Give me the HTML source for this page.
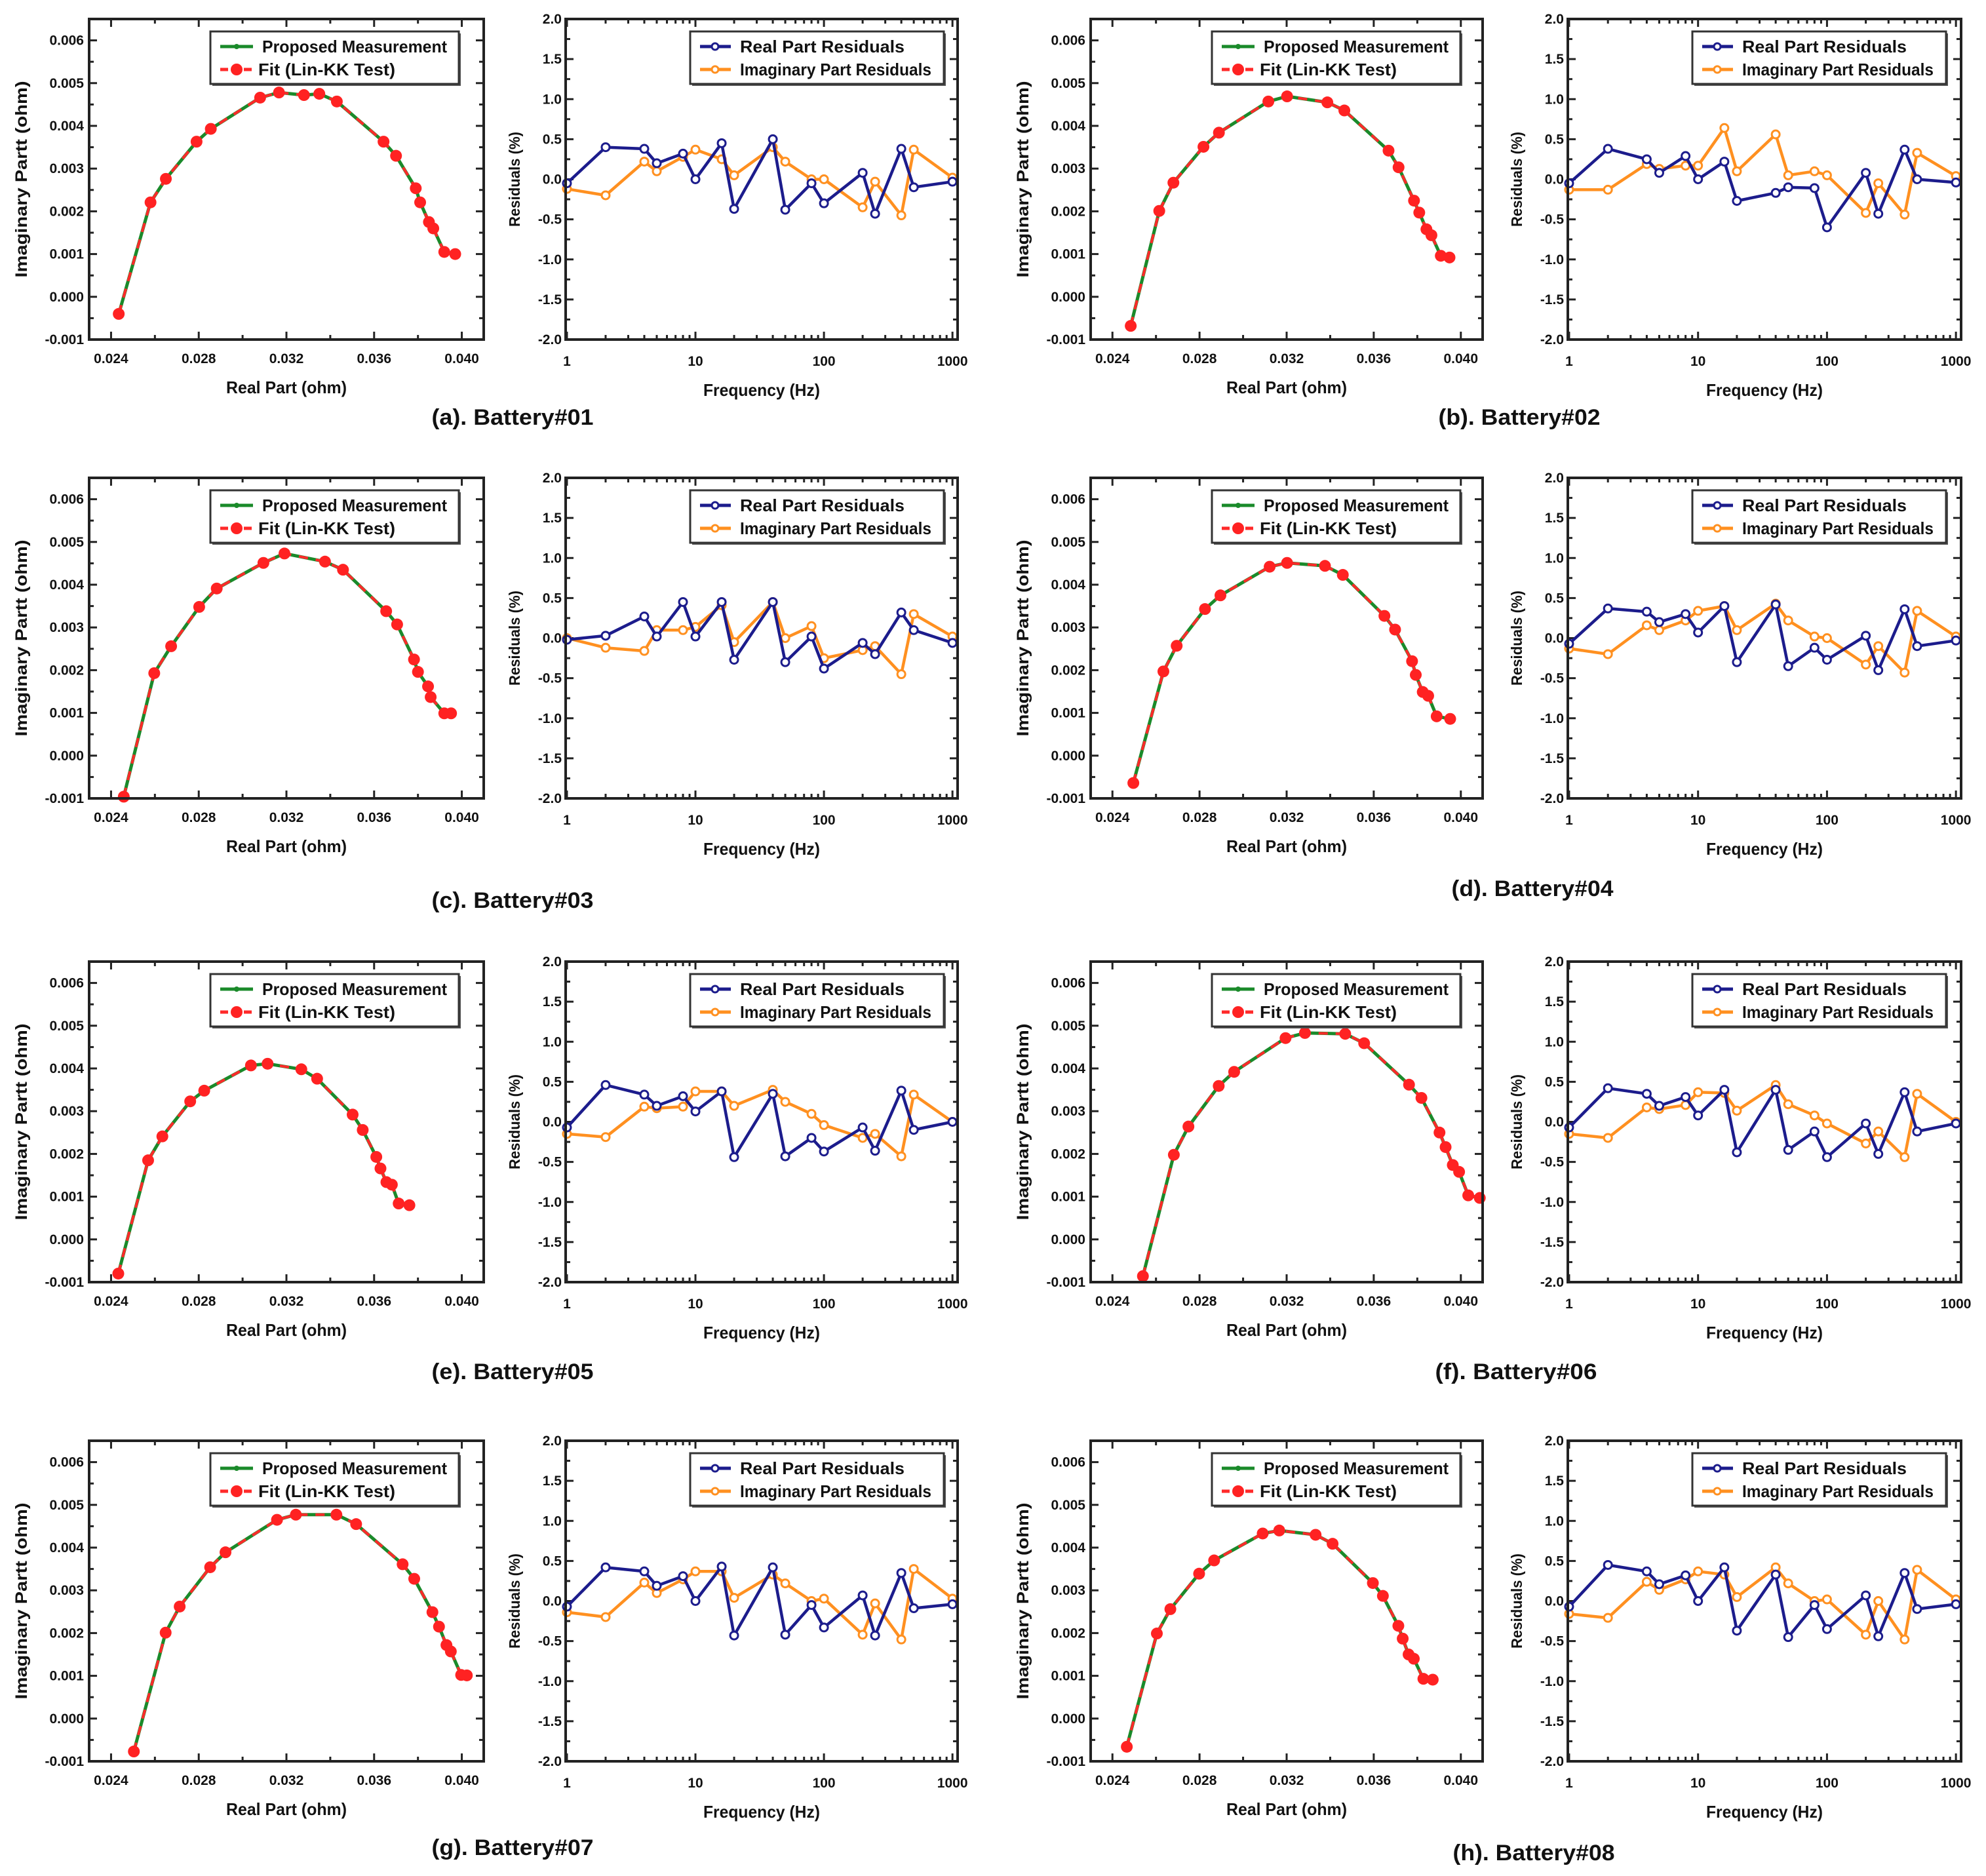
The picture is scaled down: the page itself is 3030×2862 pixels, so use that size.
<!DOCTYPE html>
<html><head><meta charset="utf-8">
<style>
html,body{margin:0;padding:0;background:#fff;}
svg{display:block;}
text{font-family:"Liberation Sans Narrow","Liberation Sans",sans-serif;font-weight:bold;fill:#111;}
.cap{font-family:"Liberation Sans",sans-serif;}
</style></head>
<body>
<svg id="fig" width="3030" height="2862" viewBox="0 0 3030 2862" xmlns="http://www.w3.org/2000/svg"></svg>
<script>
// ---- shared data ----
const FREQ = [1,2,4,5,8,10,16,20,40,50,80,100,200,250,400,500,1000];
const FREQ_TICKS = [1,10,100,1000];
const RES_TICKS = [-2.0,-1.5,-1.0,-0.5,0.0,0.5,1.0,1.5,2.0];
const NYQ_X_TICKS = [0.024,0.028,0.032,0.036,0.040];
const NYQ_Y_TICKS = [-0.001,0.000,0.001,0.002,0.003,0.004,0.005,0.006];

// ---- residuals (%) ----
const resRealA = [-0.05,0.40,0.38,0.20,0.32,0.00,0.45,-0.37,0.50,-0.38,-0.05,-0.30,0.08,-0.43,0.38,-0.10,-0.03];
const resImagA = [-0.12,-0.20,0.22,0.10,0.28,0.37,0.25,0.05,0.40,0.22,0.00,0.00,-0.35,-0.03,-0.45,0.37,0.02];
const resRealB = [-0.05,0.38,0.25,0.08,0.29,0.00,0.22,-0.27,-0.17,-0.10,-0.11,-0.60,0.08,-0.43,0.37,0.00,-0.04];
const resImagB = [-0.13,-0.13,0.19,0.13,0.17,0.17,0.64,0.10,0.56,0.05,0.10,0.05,-0.42,-0.05,-0.44,0.33,0.04];
const resRealC = [-0.02,0.03,0.27,0.02,0.45,0.02,0.45,-0.27,0.45,-0.30,0.02,-0.38,-0.06,-0.20,0.32,0.10,-0.06];
const resImagC = [0.00,-0.12,-0.16,0.10,0.10,0.14,0.41,-0.05,0.45,0.00,0.15,-0.25,-0.15,-0.10,-0.45,0.30,0.02];
const resRealD = [-0.07,0.37,0.33,0.20,0.30,0.07,0.40,-0.30,0.42,-0.35,-0.12,-0.27,0.03,-0.40,0.36,-0.10,-0.03];
const resImagD = [-0.13,-0.20,0.16,0.10,0.22,0.34,0.40,0.10,0.43,0.22,0.02,0.00,-0.33,-0.10,-0.43,0.34,0.02];
const resRealE = [-0.07,0.46,0.34,0.20,0.32,0.13,0.38,-0.44,0.35,-0.43,-0.20,-0.37,-0.07,-0.36,0.39,-0.10,0.00];
const resImagE = [-0.15,-0.19,0.19,0.17,0.19,0.38,0.38,0.20,0.40,0.25,0.10,-0.04,-0.20,-0.15,-0.43,0.34,0.00];
const resRealF = [-0.07,0.42,0.35,0.20,0.31,0.08,0.40,-0.38,0.40,-0.35,-0.12,-0.44,-0.02,-0.40,0.37,-0.12,-0.02];
const resImagF = [-0.15,-0.20,0.18,0.16,0.21,0.37,0.36,0.14,0.46,0.22,0.08,-0.02,-0.27,-0.12,-0.44,0.35,0.00];
const resRealG = [-0.07,0.42,0.37,0.19,0.31,0.00,0.43,-0.43,0.42,-0.42,-0.05,-0.33,0.07,-0.43,0.35,-0.09,-0.04];
const resImagG = [-0.14,-0.20,0.23,0.10,0.27,0.37,0.37,0.04,0.33,0.22,0.00,0.03,-0.42,-0.03,-0.48,0.40,0.03];
const resRealH = [-0.07,0.45,0.37,0.21,0.32,0.00,0.42,-0.37,0.33,-0.45,-0.05,-0.35,0.07,-0.44,0.35,-0.10,-0.04];
const resImagH = [-0.16,-0.21,0.24,0.14,0.27,0.37,0.33,0.05,0.42,0.22,0.00,0.02,-0.42,0.00,-0.48,0.39,0.02];

// ---- Nyquist (ohm) ----
const nyqXA = [0.02435,0.0258,0.0265,0.0279,0.02855,0.0308,0.03166,0.0328,0.0335,0.0343,0.03643,0.0370,0.0379,0.0381,0.0385,0.0387,0.0392,0.0397];
const nyqYA = [-0.0004,0.00221,0.00276,0.00363,0.00393,0.00466,0.00478,0.00472,0.00475,0.00457,0.00363,0.0033,0.00254,0.00221,0.00175,0.0016,0.00105,0.0010];
const nyqXB = [0.02484,0.02615,0.0268,0.02818,0.02889,0.03116,0.03202,0.03387,0.03465,0.03668,0.03714,0.03785,0.03809,0.03842,0.03865,0.03908,0.03948];
const nyqYB = [-0.00068,0.00201,0.00267,0.00351,0.00384,0.00457,0.00469,0.00455,0.00436,0.00342,0.00303,0.00225,0.00197,0.00158,0.00144,0.00096,0.00092];
const nyqXC = [0.02458,0.02597,0.02674,0.02802,0.02882,0.03095,0.03191,0.03376,0.03458,0.03655,0.03705,0.03782,0.0380,0.03846,0.03858,0.0392,0.03951];
const nyqYC = [-0.00096,0.00193,0.00256,0.00348,0.00391,0.00451,0.00473,0.00454,0.00435,0.00338,0.00307,0.00225,0.00196,0.00162,0.00137,0.00099,0.00099];
const nyqXD = [0.02496,0.02634,0.02695,0.02825,0.02896,0.03122,0.03202,0.03376,0.03458,0.03649,0.03698,0.03776,0.03793,0.03825,0.0385,0.03889,0.03951];
const nyqYD = [-0.00064,0.00197,0.00257,0.00343,0.00375,0.00442,0.00451,0.00444,0.00423,0.00327,0.00295,0.00221,0.00189,0.00149,0.0014,0.00092,0.00086];
const nyqXE = [0.02433,0.02569,0.02634,0.02761,0.02825,0.03038,0.03114,0.03268,0.0334,0.03502,0.03548,0.0361,0.03629,0.03656,0.03681,0.03712,0.03761];
const nyqYE = [-0.0008,0.00185,0.00241,0.00323,0.00348,0.00407,0.00411,0.00398,0.00376,0.00292,0.00256,0.00193,0.00166,0.00134,0.00128,0.00084,0.0008];
const nyqXF = [0.0254,0.02682,0.02749,0.02888,0.02959,0.03195,0.03284,0.03469,0.03556,0.03762,0.03819,0.03902,0.0393,0.03963,0.03992,0.04034,0.04087];
const nyqYF = [-0.00086,0.00198,0.00264,0.00359,0.00392,0.00471,0.00483,0.00481,0.00459,0.00362,0.00331,0.0025,0.00216,0.00174,0.00158,0.00103,0.00097];
const nyqXG = [0.02504,0.02649,0.02713,0.02852,0.02922,0.03157,0.03243,0.03428,0.03518,0.0373,0.03783,0.03866,0.03896,0.0393,0.0395,0.03997,0.04023];
const nyqYG = [-0.00077,0.00201,0.00262,0.00354,0.00389,0.00465,0.00477,0.00477,0.00455,0.00361,0.00327,0.00249,0.00215,0.00172,0.00157,0.00102,0.00101];
const nyqXH = [0.02466,0.02604,0.02666,0.02798,0.02867,0.0309,0.03166,0.03333,0.03411,0.03596,0.03642,0.03713,0.03733,0.0376,0.03784,0.03828,0.03871];
const nyqYH = [-0.00066,0.00199,0.00256,0.00339,0.0037,0.00433,0.0044,0.0043,0.00409,0.00317,0.00287,0.00217,0.00187,0.0015,0.0014,0.00093,0.00091];

const CAPTIONS = ["(a). Battery#01","(b). Battery#02","(c). Battery#03","(d). Battery#04","(e). Battery#05","(f). Battery#06","(g). Battery#07","(h). Battery#08"];

const NS = "http://www.w3.org/2000/svg";
const svg = document.getElementById('fig');
function el(tag, attrs, parent, txt){
  const e = document.createElementNS(NS, tag);
  for (const k in attrs) e.setAttribute(k, attrs[k]);
  if (txt !== undefined) e.textContent = txt;
  (parent||svg).appendChild(e);
  return e;
}

const COLS = [{nx:136,nw:602,rx:863,rw:598},{nx:1664,nw:598,rx:2392,rw:600}];
const ROWS = [29,729,1467,2198];
const H = 489;
const CAP_POS = [[782,648],[2318,648],[782,1385],[2338,1367],[782,2104],[2313,2104],[782,2830],[2340,2838]];

const panels = [
 {nx:nyqXA,ny:nyqYA,rr:resRealA,ri:resImagA},
 {nx:nyqXB,ny:nyqYB,rr:resRealB,ri:resImagB},
 {nx:nyqXC,ny:nyqYC,rr:resRealC,ri:resImagC},
 {nx:nyqXD,ny:nyqYD,rr:resRealD,ri:resImagD},
 {nx:nyqXE,ny:nyqYE,rr:resRealE,ri:resImagE},
 {nx:nyqXF,ny:nyqYF,rr:resRealF,ri:resImagF},
 {nx:nyqXG,ny:nyqYG,rr:resRealG,ri:resImagG},
 {nx:nyqXH,ny:nyqYH,rr:resRealH,ri:resImagH}
];

function drawNyquist(g, x0, y0, w, h, xs, ys){
  const X0=0.023, X1=0.041, Y0=-0.001, Y1=0.0065;
  const sx = v => x0 + (v-X0)/(X1-X0)*w;
  const sy = v => y0 + (Y1-v)/(Y1-Y0)*h;
  // ticks
  for (let i=0;i<=8;i++){
    const v = 0.024 + i*0.002; const X = sx(v); const L = (i%2===0)?12:7;
    el('line',{x1:X,y1:y0+h,x2:X,y2:y0+h-L,stroke:'#222','stroke-width':3},g);
    el('line',{x1:X,y1:y0,x2:X,y2:y0+L,stroke:'#222','stroke-width':3},g);
  }
  for (let i=0;i<=15;i++){
    const v = -0.001 + i*0.0005; const Y = sy(v); const L = (i%2===0)?12:7;
    el('line',{x1:x0,y1:Y,x2:x0+L,y2:Y,stroke:'#222','stroke-width':3},g);
    el('line',{x1:x0+w,y1:Y,x2:x0+w-L,y2:Y,stroke:'#222','stroke-width':3},g);
  }
  NYQ_X_TICKS.forEach(v=>{
    const t = el('text',{x:sx(v),y:y0+h+36,'font-size':21,'text-anchor':'middle'},g,v.toFixed(3));
     
  });
  NYQ_Y_TICKS.forEach(v=>{
    const t = el('text',{x:x0-8,y:sy(v)+7,'font-size':21,'text-anchor':'end'},g,v.toFixed(3));
     
  });
  const xt = el('text',{x:x0+w/2,y:y0+h+82,'font-size':26,'text-anchor':'middle',textLength:184,lengthAdjust:'spacingAndGlyphs'},g,'Real Part (ohm)');
   
  const ycx = x0-95, ycy = y0+h/2;
  const yt = el('text',{x:ycx,y:ycy,'font-size':25,'text-anchor':'middle',transform:`rotate(-90 ${ycx} ${ycy})`,textLength:300,lengthAdjust:'spacingAndGlyphs'},g,'Imaginary Partt (ohm)');
   
  // series
  const pts = xs.map((v,i)=>sx(v).toFixed(1)+','+sy(ys[i]).toFixed(1)).join(' ');
  const gl = el('polyline',{points:pts,fill:'none',stroke:'#1a8a2a','stroke-width':5,'stroke-linejoin':'round'},g);
   
  const rl = el('polyline',{points:pts,fill:'none',stroke:'#ff2a2a','stroke-width':4,'stroke-dasharray':'14 12'},g);
   
  xs.forEach((v,i)=>{
    const c = el('circle',{cx:sx(v),cy:sy(ys[i]),r:9,fill:'#ff2222'},g);
     
  });
  // frame
  el('rect',{x:x0,y:y0,width:w,height:h,fill:'none',stroke:'#222','stroke-width':4},g);
  // legend
  const lg = el('g',{},g);
   
  el('rect',{x:x0+188,y:y0+22,width:379,height:80,fill:'#555'},lg);
  el('rect',{x:x0+185,y:y0+19,width:379,height:80,fill:'#fff',stroke:'#333','stroke-width':3},lg);
  el('line',{x1:x0+200,y1:y0+42,x2:x0+250,y2:y0+42,stroke:'#1a8a2a','stroke-width':5},lg);
  el('circle',{cx:x0+225,cy:y0+42,r:4,fill:'#1a8a2a'},lg);
  el('text',{x:x0+264,y:y0+51,'font-size':26,textLength:282,lengthAdjust:'spacingAndGlyphs'},lg,'Proposed Measurement');
  el('line',{x1:x0+200,y1:y0+77,x2:x0+250,y2:y0+77,stroke:'#ff2a2a','stroke-width':5,'stroke-dasharray':'12 6'},lg);
  el('circle',{cx:x0+225,cy:y0+77,r:9,fill:'#ff2222'},lg);
  el('text',{x:x0+258,y:y0+86,'font-size':26,textLength:209,lengthAdjust:'spacingAndGlyphs'},lg,'Fit (Lin-KK Test)');
}

function drawResiduals(g, x0, y0, w, h, rr, ri){
  const L0=-0.01, L1=3.04;
  const sx = f => x0 + (Math.log10(f)-L0)/(L1-L0)*w;
  const sy = v => y0 + (2-v)/4*h;
  for (let d=0; d<3; d++) for (let m=1; m<=10; m++){
    const f = Math.pow(10,d)*m; if (m===10 && d<2) continue;
    const X = sx(f); const L = (m===1||m===10)?12:7;
    el('line',{x1:X,y1:y0+h,x2:X,y2:y0+h-L,stroke:'#222','stroke-width':3},g);
    el('line',{x1:X,y1:y0,x2:X,y2:y0+L,stroke:'#222','stroke-width':3},g);
  }
  for (let i=0;i<=16;i++){
    const v=-2+i*0.25; const Y=sy(v); const L=(i%2===0)?12:7;
    el('line',{x1:x0,y1:Y,x2:x0+L,y2:Y,stroke:'#222','stroke-width':3},g);
    el('line',{x1:x0+w,y1:Y,x2:x0+w-L,y2:Y,stroke:'#222','stroke-width':3},g);
  }
  FREQ_TICKS.forEach(f=>{
    const t = el('text',{x:sx(f),y:y0+h+40,'font-size':21,'text-anchor':'middle'},g,String(f));
     
  });
  RES_TICKS.forEach(v=>{
    const t = el('text',{x:x0-6,y:sy(v)+7,'font-size':21,'text-anchor':'end'},g,v.toFixed(1));
     
  });
  const xt = el('text',{x:x0+w/2,y:y0+h+86,'font-size':26,'text-anchor':'middle',textLength:178,lengthAdjust:'spacingAndGlyphs'},g,'Frequency (Hz)');
   
  const ycx = x0-70, ycy = y0+h/2;
  const yt = el('text',{x:ycx,y:ycy,'font-size':23,'text-anchor':'middle',transform:`rotate(-90 ${ycx} ${ycy})`,textLength:145,lengthAdjust:'spacingAndGlyphs'},g,'Residuals (%)');
   
  function series(vals, color, name){
    const pts = FREQ.map((f,i)=>sx(f).toFixed(1)+','+sy(vals[i]).toFixed(1)).join(' ');
    const pl = el('polyline',{points:pts,fill:'none',stroke:color,'stroke-width':4.5,'stroke-linejoin':'round'},g);
     
    FREQ.forEach((f,i)=>{
      const c = el('circle',{cx:sx(f),cy:sy(vals[i]),r:6,fill:'#fff',stroke:color,'stroke-width':3},g);
       
    });
  }
  series(ri,'#ff9020','imaginary-residual');
  series(rr,'#1c1c8c','real-residual');
  el('rect',{x:x0,y:y0,width:w,height:h,fill:'none',stroke:'#222','stroke-width':4},g);
  const lg = el('g',{},g);
   
  el('rect',{x:x0+193,y:y0+22,width:387,height:80,fill:'#555'},lg);
  el('rect',{x:x0+190,y:y0+19,width:387,height:80,fill:'#fff',stroke:'#333','stroke-width':3},lg);
  el('line',{x1:x0+205,y1:y0+42,x2:x0+252,y2:y0+42,stroke:'#1c1c8c','stroke-width':5},lg);
  el('circle',{cx:x0+228,cy:y0+42,r:5,fill:'#fff',stroke:'#1c1c8c','stroke-width':3},lg);
  el('text',{x:x0+266,y:y0+51,'font-size':26,textLength:251,lengthAdjust:'spacingAndGlyphs'},lg,'Real Part Residuals');
  el('line',{x1:x0+205,y1:y0+77,x2:x0+252,y2:y0+77,stroke:'#ff9020','stroke-width':5},lg);
  el('circle',{cx:x0+228,cy:y0+77,r:5,fill:'#fff',stroke:'#ff9020','stroke-width':3},lg);
  el('text',{x:x0+266,y:y0+86,'font-size':26,textLength:292,lengthAdjust:'spacingAndGlyphs'},lg,'Imaginary Part Residuals');
}

panels.forEach((p, idx)=>{
  const col = COLS[idx%2], y0 = ROWS[Math.floor(idx/2)];
  const g = el('g',{});
  
  
  const gn = el('g',{},g);
  
  
  drawNyquist(gn, col.nx, y0, col.nw, H, p.nx, p.ny);
  const gr = el('g',{},g);
  
  
  drawResiduals(gr, col.rx, y0, col.rw, H, p.rr, p.ri);
  const c = el('text',{x:CAP_POS[idx][0],y:CAP_POS[idx][1],'font-size':34,'text-anchor':'middle',class:'cap',textLength:247,lengthAdjust:'spacingAndGlyphs'},g,CAPTIONS[idx]);
  
  
});
</script>
</body></html>
